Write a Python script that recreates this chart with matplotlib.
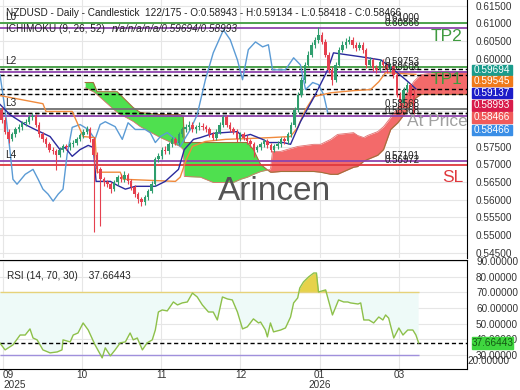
import numpy as np
import matplotlib.pyplot as plt
from matplotlib.patches import Rectangle

plt.rcParams['font.family'] = ['Liberation Sans', 'DejaVu Sans']

# daily NZDUSD candles
opens = [0.5855, 0.5827, 0.5793, 0.5771, 0.5785, 0.5799, 0.5805, 0.5816, 0.5821, 0.5833,
         0.5838, 0.5813, 0.5785, 0.5771, 0.5757, 0.5742, 0.5737, 0.5728, 0.5742, 0.5751,
         0.5748, 0.5757, 0.5762, 0.5771, 0.5782, 0.5793, 0.5799, 0.5771, 0.5728, 0.5686,
         0.5658, 0.5649, 0.5644, 0.5630, 0.5649, 0.5663, 0.5658, 0.5669, 0.5652, 0.5635,
         0.5616, 0.5601, 0.5593, 0.5607, 0.5624, 0.5644, 0.5714, 0.5723, 0.5742, 0.5737,
         0.5757, 0.5771, 0.5762, 0.5785, 0.5799, 0.5805, 0.5813, 0.5799, 0.5805, 0.5810,
         0.5805, 0.5799, 0.5785, 0.5776, 0.5793, 0.5813, 0.5833, 0.5813, 0.5799, 0.5793,
         0.5771, 0.5785, 0.5776, 0.5765, 0.5757, 0.5742, 0.5748, 0.5757, 0.5765, 0.5754,
         0.5742, 0.5751, 0.5757, 0.5771, 0.5765, 0.5785, 0.5813, 0.5855, 0.5898, 0.5940,
         0.5982, 0.6011, 0.6039, 0.6053, 0.6067, 0.6047, 0.6011, 0.5968, 0.5940, 0.5982,
         0.6025, 0.6039, 0.6047, 0.6053, 0.6039, 0.6030, 0.6039, 0.6025, 0.5982, 0.5996,
         0.5974, 0.5968, 0.5991, 0.5982, 0.5968, 0.5979, 0.5954, 0.5898, 0.5875, 0.5912,
         0.5926, 0.58943]
highs = [0.5862, 0.5833, 0.5799, 0.5792, 0.5806, 0.5814, 0.5824, 0.5830, 0.5840, 0.5847,
         0.5843, 0.5819, 0.5792, 0.5779, 0.5763, 0.5750, 0.5744, 0.5748, 0.5758, 0.5759,
         0.5764, 0.5770, 0.5778, 0.5790, 0.5800, 0.5810, 0.5806, 0.5778, 0.5735, 0.5692,
         0.5665, 0.5656, 0.5650, 0.5655, 0.5670, 0.5672, 0.5680, 0.5675, 0.5658, 0.5641,
         0.5622, 0.5609, 0.5614, 0.5631, 0.5652, 0.5720, 0.5732, 0.5750, 0.5751, 0.5764,
         0.5779, 0.5778, 0.5792, 0.5807, 0.5814, 0.5822, 0.5819, 0.5812, 0.5820, 0.5817,
         0.5811, 0.5805, 0.5791, 0.5800, 0.5820, 0.5841, 0.5839, 0.5819, 0.5806, 0.5799,
         0.5792, 0.5791, 0.5782, 0.5771, 0.5763, 0.5755, 0.5764, 0.5773, 0.5771, 0.5760,
         0.5758, 0.5765, 0.5778, 0.5779, 0.5792, 0.5820, 0.5862, 0.5905, 0.5948, 0.5990,
         0.6020, 0.6048, 0.6062, 0.6090, 0.6075, 0.6054, 0.6018, 0.5975, 0.5989, 0.6032,
         0.6050, 0.6058, 0.6064, 0.6060, 0.6046, 0.6048, 0.6046, 0.6031, 0.6004, 0.6002,
         0.5981, 0.5999, 0.5998, 0.5988, 0.5988, 0.5985, 0.5960, 0.5905, 0.5920, 0.5934,
         0.5932, 0.59134]
lows = [0.5818, 0.5785, 0.5762, 0.5765, 0.5779, 0.5792, 0.5798, 0.5808, 0.5815, 0.5826,
        0.5806, 0.5778, 0.5763, 0.5749, 0.5735, 0.5729, 0.5685, 0.5720, 0.5735, 0.5740,
        0.5741, 0.5750, 0.5755, 0.5765, 0.5775, 0.5785, 0.5764, 0.5508, 0.5675, 0.5525,
        0.5640, 0.5635, 0.5620, 0.5624, 0.5642, 0.5650, 0.5651, 0.5645, 0.5627, 0.5608,
        0.5590, 0.5582, 0.5586, 0.5600, 0.5618, 0.5638, 0.5706, 0.5716, 0.5729, 0.5730,
        0.5750, 0.5754, 0.5756, 0.5778, 0.5792, 0.5798, 0.5791, 0.5790, 0.5797, 0.5798,
        0.5791, 0.5778, 0.5768, 0.5770, 0.5787, 0.5806, 0.5806, 0.5792, 0.5785, 0.5764,
        0.5765, 0.5769, 0.5757, 0.5749, 0.5720, 0.5735, 0.5741, 0.5750, 0.5747, 0.5734,
        0.5735, 0.5744, 0.5750, 0.5757, 0.5759, 0.5779, 0.5807, 0.5848, 0.5890, 0.5932,
        0.5975, 0.6003, 0.6031, 0.6045, 0.6040, 0.6003, 0.5960, 0.5926, 0.5933, 0.5975,
        0.6018, 0.6031, 0.6040, 0.6031, 0.6022, 0.6023, 0.6017, 0.5974, 0.5975, 0.5966,
        0.5958, 0.5961, 0.5974, 0.5960, 0.5961, 0.5946, 0.5890, 0.5863, 0.5868, 0.5905,
        0.5887, 0.58418]
closes = [0.5827, 0.5793, 0.5771, 0.5785, 0.5799, 0.5805, 0.5816, 0.5821, 0.5833, 0.5838,
          0.5813, 0.5785, 0.5771, 0.5757, 0.5742, 0.5737, 0.5728, 0.5742, 0.5751, 0.5748,
          0.5757, 0.5762, 0.5771, 0.5782, 0.5793, 0.5799, 0.5771, 0.5728, 0.5686, 0.5658,
          0.5649, 0.5644, 0.5630, 0.5649, 0.5663, 0.5658, 0.5669, 0.5652, 0.5635, 0.5616,
          0.5601, 0.5593, 0.5607, 0.5624, 0.5644, 0.5714, 0.5723, 0.5742, 0.5737, 0.5757,
          0.5771, 0.5762, 0.5785, 0.5799, 0.5805, 0.5813, 0.5799, 0.5805, 0.5810, 0.5805,
          0.5799, 0.5785, 0.5776, 0.5793, 0.5813, 0.5833, 0.5813, 0.5799, 0.5793, 0.5771,
          0.5785, 0.5776, 0.5765, 0.5757, 0.5742, 0.5748, 0.5757, 0.5765, 0.5754, 0.5742,
          0.5751, 0.5757, 0.5771, 0.5765, 0.5785, 0.5813, 0.5855, 0.5898, 0.5940, 0.5982,
          0.6011, 0.6039, 0.6053, 0.6067, 0.6047, 0.6011, 0.5968, 0.5940, 0.5982, 0.6025,
          0.6039, 0.6047, 0.6053, 0.6039, 0.6030, 0.6039, 0.6025, 0.5982, 0.5996, 0.5974,
          0.5968, 0.5991, 0.5982, 0.5968, 0.5979, 0.5954, 0.5898, 0.5875, 0.5912, 0.5926,
          0.5894, 0.58466]

# ichimoku lines, read at their bends (bar index, price)
tenkan_x = [-0.5, 2.4, 6.9, 9.8, 14.2, 17.1, 18.6, 20.7, 23.0, 25.4, 26.9, 27.7, 31.9, 33.9,
            36.3, 39.2, 45.1, 48.0, 51.9, 53.6, 56.3, 58.3, 62.1, 69.2, 70.7, 73.0, 76.6,
            78.3, 82.7, 84.8, 87.7, 92.1, 95.7, 97.4, 105.4, 111.3, 115.1, 118.6, 121.6]
tenkan_y = [0.5870, 0.5841, 0.5813, 0.5799, 0.5779, 0.5742, 0.5748, 0.5723, 0.5742, 0.5754,
            0.5748, 0.5652, 0.5652, 0.5641, 0.5630, 0.5638, 0.5638, 0.5652, 0.5686, 0.5742,
            0.5771, 0.5776, 0.5788, 0.5793, 0.5779, 0.5785, 0.5771, 0.5762, 0.5762, 0.5757,
            0.5821, 0.5898, 0.5968, 0.6016, 0.6005, 0.5996, 0.5968, 0.5940, 0.5914]
kijun_x = [-0.5, 12.1, 13.0, 20.7, 22.4, 23.9, 27.4, 28.0, 34.8, 35.7, 51.0, 52.4, 54.2, 56.0,
           59.8, 65.7, 71.6, 78.9, 84.8, 86.9, 89.2, 91.6, 96.6, 103.3, 108.3, 110.7, 112.7,
           121.6]
kijun_y = [0.5895, 0.5872, 0.5850, 0.5850, 0.5813, 0.5779, 0.5776, 0.5678, 0.5678, 0.5658,
           0.5652, 0.5664, 0.5714, 0.5751, 0.5765, 0.5771, 0.5773, 0.5776, 0.5779, 0.5805,
           0.5855, 0.5892, 0.5903, 0.5909, 0.5912, 0.5934, 0.5960, 0.5955]
chikou_x = [-0.5, 1.0, 2.4, 3.3, 4.5, 6.9, 9.2, 10.7, 12.1, 13.6, 15.1, 16.6, 18.0, 19.2, 20.7,
            23.0, 25.4, 27.4, 28.9, 30.4, 33.3, 35.4, 37.1, 39.2, 42.1, 43.6, 45.1, 46.6,
            48.6, 51.0, 52.4, 55.4, 57.4, 59.8, 62.1, 65.1, 67.1, 69.2, 70.7, 72.4, 74.5,
            76.6, 78.3, 79.5, 83.3, 85.7, 87.7, 89.2, 91.3, 93.0, 94.5, 95.7]
chikou_y = [0.5954, 0.5855, 0.5742, 0.5658, 0.5644, 0.5672, 0.5686, 0.5658, 0.5630, 0.5616,
            0.5596, 0.5616, 0.5630, 0.5728, 0.5805, 0.5813, 0.5799, 0.5771, 0.5813, 0.5821,
            0.5807, 0.5771, 0.5818, 0.5799, 0.5799, 0.5790, 0.5762, 0.5779, 0.5790, 0.5771,
            0.5751, 0.5799, 0.5841, 0.5940, 0.6016, 0.6081, 0.6053, 0.5996, 0.5940, 0.6025,
            0.6047, 0.6033, 0.6039, 0.5968, 0.5968, 0.6002, 0.5982, 0.5912, 0.5932, 0.5926,
            0.5898, 0.5847]
cloud_x = [24.5, 26.9, 28.0, 33.9, 38.6, 40.7, 46.6, 52.4, 53.3, 53.6, 58.3, 62.1, 68.0, 70.1,
           72.1, 73.9, 76.0, 78.9, 79.5, 81.9, 86.9, 91.6, 93.6, 96.6, 98.6, 103.3, 104.5,
           106.3, 107.4, 110.4, 112.1, 114.2, 116.3, 118.6, 121.0, 123.0, 128.9, 136.6]
span_a = [0.5932, 0.5932, 0.5906, 0.5906, 0.5861, 0.5847, 0.5841, 0.5841, 0.5836, 0.5762,
          0.5762, 0.5762, 0.5762, 0.5762, 0.5762, 0.5742, 0.5700, 0.5678, 0.5678, 0.5680,
          0.5680, 0.5680, 0.5678, 0.5672, 0.5672, 0.5692, 0.5694, 0.5709, 0.5714, 0.5726,
          0.5742, 0.5799, 0.5818, 0.5847, 0.5884, 0.5898, 0.5898, 0.5898]
span_b = [0.5917, 0.5906, 0.5898, 0.5847, 0.5822, 0.5807, 0.5776, 0.5751, 0.5742, 0.5666,
          0.5664, 0.5649, 0.5649, 0.5658, 0.5664, 0.5672, 0.5680, 0.5686, 0.5737, 0.5737,
          0.5751, 0.5757, 0.5757, 0.5771, 0.5785, 0.5790, 0.5782, 0.5776, 0.5782, 0.5793,
          0.5807, 0.5833, 0.5861, 0.5898, 0.5935, 0.5954, 0.5963, 0.5963]

# RSI(14)
rsi_x = [-0.5, 1.0, 3.3, 5.4, 6.9, 8.3, 9.2, 10.4, 12.1, 14.2, 16.3, 17.7, 18.0, 20.1, 21.0,
         22.4, 23.9, 25.4, 27.4, 29.5, 30.4, 31.9, 33.3, 34.8, 36.3, 37.7, 38.6, 39.8, 41.3,
         42.7, 44.2, 45.1, 46.0, 47.1, 48.6, 50.4, 51.6, 53.0, 54.5, 56.0, 57.4, 58.9, 60.7,
         62.1, 63.3, 64.8, 66.3, 67.7, 69.2, 70.7, 72.1, 73.9, 75.4, 76.0, 77.4, 78.0, 78.9,
         79.8, 81.9, 83.3, 84.8, 85.7, 86.9, 87.5, 88.6, 90.1, 91.6, 92.4, 93.0, 95.1, 97.1,
         98.9, 100.4, 101.6, 102.4, 104.6, 105.4, 106.3, 107.8, 109.2, 110.7, 111.9, 112.7,
         113.6, 115.1, 116.6, 117.8, 119.2, 120.7, 121.6, 122.4]
rsi_v = [37.5, 33.2, 36.4, 42.7, 42.7, 46.6, 40.8, 39.6, 33.2, 31.3, 31.9, 33.2, 39.6, 38.3,
         42.7, 44.0, 50.4, 45.9, 36.4, 28.1, 34.5, 29.4, 33.2, 37.7, 38.3, 44.0, 39.6, 40.8,
         33.2, 37.7, 39.6, 45.9, 57.4, 58.7, 58.1, 63.8, 61.9, 63.2, 63.8, 69.5, 67.0, 61.9,
         57.4, 57.4, 52.3, 67.0, 65.7, 65.1, 57.4, 46.6, 47.9, 53.0, 50.4, 51.0, 45.9, 41.5,
         50.4, 44.7, 45.9, 47.2, 54.2, 63.2, 66.4, 72.7, 76.6, 79.8, 82.3, 82.3, 70.2, 71.5,
         55.5, 65.1, 63.8, 63.8, 63.2, 62.5, 63.2, 52.3, 52.3, 50.4, 54.2, 52.3, 55.5, 53.5,
         40.8, 47.2, 42.7, 45.9, 45.9, 42.7, 37.66443]

# levels drawn across the chart
level_vals = [0.61000, 0.60866, 0.59753, 0.59608, 0.58568, 0.58368, 0.57101, 0.56972]
level_names = ['L0', 'L2', 'L3', 'L4']
level_name_vals = [0.61000, 0.59753, 0.58568, 0.57101]
current_vals = [0.59694, 0.59545, 0.59137, 0.58993, 0.58466, 0.58466]

price_ticks = [0.545, 0.550, 0.555, 0.560, 0.565, 0.570, 0.575, 0.580, 0.585, 0.590,
               0.595, 0.600, 0.605, 0.610, 0.615]
rsi_ticks = [30, 40, 50, 60, 70, 80, 90]
month_pos = [0.4, 23.6, 46.9, 70.1, 93.3, 116.6]
month_labels = ['09\n2025', '10', '11', '12', '01\n2026', '03']

level_colors = ['#3f9b3f', '#8e44ad', '#3f9b3f', '#8e44ad', '#707070', '#8e44ad', '#8e44ad', '#e0393e']
box_colors = ['#1a9c8c', '#f07a1a', '#1c1cc8', '#d81b4a', '#f05a5a', '#3a8ee6']

W, H = 520, 390
fig = plt.figure(figsize=(5.2, 3.9), dpi=100)
ax = fig.add_axes([0, (H - 258) / H, 467 / W, 258 / H])
ax2 = fig.add_axes([0, (H - 369) / H, 467 / W, 109 / H])

x = np.arange(len(closes))
o = np.array(opens); c = np.array(closes)
hi = np.array(highs); lo = np.array(lows)
up = c >= o
cols = np.where(up, '#2f9e6e', '#e5404f')

ax.set_xlim(-0.5, 136.6)
ax.set_ylim(0.5435, 0.61657)

# cloud
sa = np.array(span_a); sb = np.array(span_b)
ax.fill_between(cloud_x, sa, sb, where=sa >= sb, interpolate=True, color='#4fe04f', lw=0, zorder=1)
ax.fill_between(cloud_x, sa, sb, where=sa < sb, interpolate=True, color='#f36a6a', lw=0, zorder=1)
ax.plot(cloud_x, sa, color='#a0703a', lw=0.8, zorder=1.5)
ax.plot(cloud_x, sb, color='#e07070', lw=0.6, zorder=1.5)

# levels
for v, col in zip(level_vals, level_colors):
    ax.axhline(v, color=col, lw=1.3, zorder=2)
    ax.text(112.4, v, '%.5f' % v, fontsize=7, color='#222', va='bottom', ha='left', zorder=6)
for name, v in zip(level_names, level_name_vals):
    ax.text(1.0, v + 0.0003, name, fontsize=7.2, color='#222', va='bottom', ha='left', zorder=6)
for v in current_vals:
    ax.axhline(v, color='black', lw=1, ls=(0, (3, 2)), zorder=3)

# ichimoku lines
ax.plot(chikou_x, chikou_y, color='#5b9bd5', lw=1, zorder=3)
ax.plot(kijun_x, kijun_y, color='#f08a3c', lw=1, zorder=3)
ax.plot(tenkan_x, tenkan_y, color='#2a2a9c', lw=1, zorder=3)

# candles
ax.vlines(x, lo, hi, colors=cols, lw=0.8, zorder=4)
body = np.maximum(np.abs(c - o), 0.00012)
ax.bar(x, body, bottom=np.minimum(o, c), width=0.72, color=cols, lw=0, zorder=5)

# zone labels
ax.text(130.7, 0.6061, 'TP2', fontsize=12.5, color='#3f9b3f', ha='center', va='center', zorder=6)
ax.text(130.7, 0.5940, 'TP1', fontsize=12.5, color='#3f9b3f', ha='center', va='center', zorder=6)
ax.text(128.0, 0.5821, 'At Price', fontsize=12.5, color='#a0a0a0', ha='center', va='center', zorder=6)
ax.text(132.4, 0.5664, 'SL', fontsize=12.5, color='#e0393e', ha='center', va='center', zorder=6)
ax.text(0.587, 0.256, 'Arincen', transform=ax.transAxes, fontsize=24, color='#555555',
        ha='center', va='center', zorder=7)

ax.yaxis.tick_right()
ax.set_yticks(price_ticks)
ax.set_yticklabels(['%.5f' % t for t in price_ticks])
ax.set_xticks(month_pos)
ax.tick_params(axis='x', labelbottom=False, length=0)
ax.tick_params(axis='y', length=0, pad=6.5, labelsize=7.2, labelcolor='#333')
ax.grid(color='#e6e6e6', lw=0.8, zorder=0)
ax.set_axisbelow(True)
for s in ['top', 'left', 'bottom']:
    ax.spines[s].set_visible(False)
ax.spines['right'].set_color('black')

# RSI panel
rv = np.array(rsi_v)
ax2.set_xlim(-0.5, 136.6)
ax2.set_ylim(21, 90.6)
ax2.fill_between(rsi_x, rv, 70, where=rv <= 70, interpolate=True, color='#eefaf8', lw=0, zorder=1)
ax2.fill_between(rsi_x, rv, 70, where=rv > 70, interpolate=True, color='#e6d24a', lw=0, zorder=2)
ax2.hlines(70, -0.5, 122.4, color='#e6d27a', lw=1, zorder=2)
ax2.hlines(30, -0.5, 122.4, color='#a090dc', lw=1, zorder=2)
ax2.axhline(rsi_v[-1], color='black', lw=1, ls=(0, (3, 2)), zorder=3)
ax2.plot(rsi_x, rv, color='#8dc04a', lw=1, zorder=4)
ax2.yaxis.tick_right()
ax2.set_yticks(rsi_ticks)
ax2.set_yticklabels(['%.5f' % t for t in rsi_ticks])
ax2.set_xticks(month_pos)
ax2.set_xticklabels(month_labels, linespacing=0.95)
ax2.get_xticklabels()[0].set_ha('left')
ax2.tick_params(axis='x', length=0, pad=1, labelsize=7.2, labelcolor='#333')
ax2.tick_params(axis='y', length=0, pad=6.5, labelsize=7.2, labelcolor='#333')
ax2.grid(color='#e6e6e6', lw=0.8, zorder=0)
ax2.set_axisbelow(True)
ax2.spines['left'].set_visible(False)
for s in ['top', 'bottom', 'right']:
    ax2.spines[s].set_color('black')
ax2.text(1.0, 26.2, '%.5f' % 20, transform=ax2.get_yaxis_transform(), fontsize=7.2,
         color='#333', va='center', ha='left', clip_on=False)
ax2.text(0.015, 0.85, 'RSI (14, 70, 30)    %.5f' % rsi_v[-1], transform=ax2.transAxes,
         fontsize=7.2, color='#222', va='center')


def fx(px):
    return px / W


def fy(py):
    return 1 - py / H


# current value boxes on the price scale
box_centres = [69.8, 81.0, 93.0, 105.5, 117.5, 130.0]
for v, col, yc in zip(current_vals, box_colors, box_centres):
    fig.patches.append(Rectangle((fx(472), fy(yc + 5.2)), fx(40), 10.4 / H, color=col,
                                 transform=fig.transFigure, figure=fig, zorder=8))
    fig.text(fx(492), fy(yc), '%.5f' % v, color='white', fontsize=7.2, ha='center',
             va='center', zorder=9)
fig.patches.append(Rectangle((fx(472), fy(349)), fx(41), 12 / H, color='#3fd63f',
                             transform=fig.transFigure, figure=fig, zorder=8))
fig.text(fx(492.5), fy(343), '%.5f' % rsi_v[-1], color='#145a14', fontsize=7.2, ha='center',
         va='center', zorder=9)

fig.text(fx(6), fy(13), 'NZDUSD - Daily - Candlestick', fontsize=7.2, color='#222', va='center')
fig.text(fx(145), fy(13), '122/175 - O:%.5f - H:%.5f - L:%.5f - C:%.5f'
         % (opens[-1], highs[-1], lows[-1], closes[-1]), fontsize=7.2, color='#222', va='center')
fig.text(fx(6), fy(29), 'ICHIMOKU (9, 26, 52)', fontsize=7.2, color='#222', va='center')
fig.text(fx(112), fy(29), 'n/a/n/a/n/a/%.5f/%.5f' % (current_vals[0], current_vals[3]),
         fontsize=7.2, color='#222', va='center', style='italic')

fig.savefig('out.png', dpi=100)
